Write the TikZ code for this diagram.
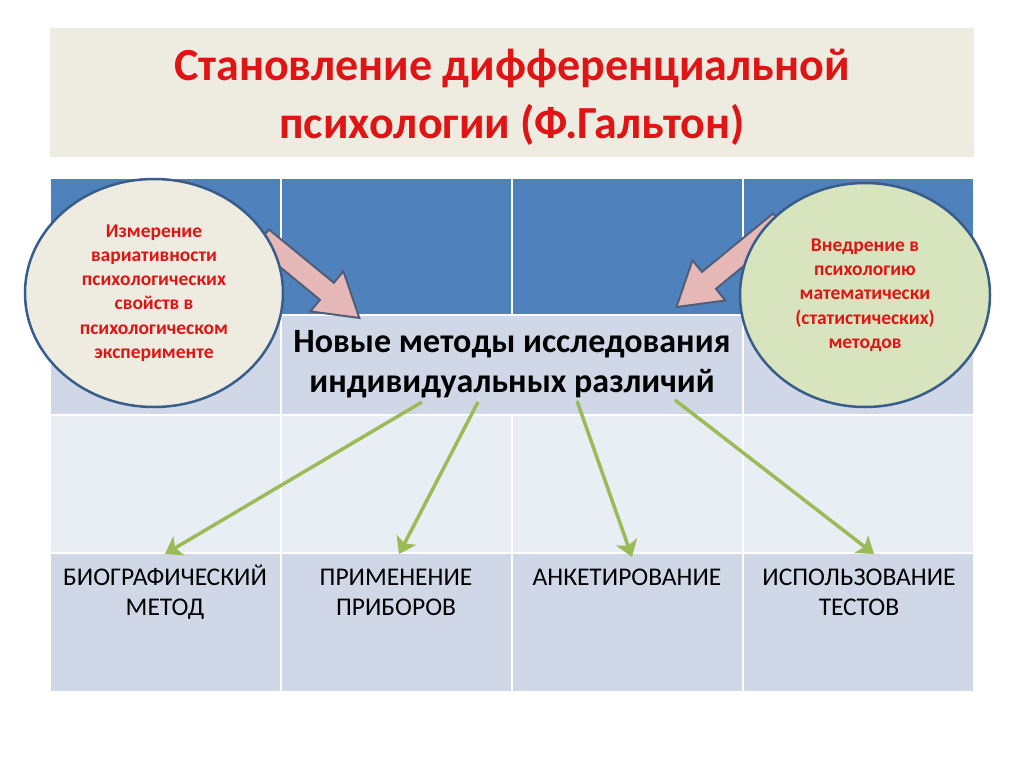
\documentclass[tikz,border=0pt]{standalone}
\usepackage{fontspec}
\setmainfont{Carlito}
\usetikzlibrary{arrows.meta,shapes.geometric,calc}
\definecolor{titlebg}{HTML}{EEECE1}
\definecolor{titlered}{HTML}{E01414}
\definecolor{hdrblue}{HTML}{4F81BD}
\definecolor{rowdark}{HTML}{D0D8E8}
\definecolor{rowlight}{HTML}{E9EDF4}
\definecolor{ellborder}{HTML}{385D8A}
\definecolor{ellbeige}{HTML}{EEECE1}
\definecolor{ellgreen}{HTML}{D7E4BD}
\definecolor{pinkfill}{HTML}{E6B9B8}
\definecolor{pinkdraw}{HTML}{4F5F7A}
\definecolor{arrowgreen}{HTML}{9BBB59}
\tikzset{
  cellbox/.style={draw=white, line width=2pt},
  titletext/.style={text=titlered, font=\fontsize{46}{58}\selectfont\bfseries, align=center, inner sep=0},
  centertext/.style={font=\fontsize{34}{40}\selectfont\bfseries, align=center, inner sep=0},
  celltext/.style={font=\fontsize{25.5}{30}\selectfont, align=center, inner sep=0, anchor=north},
  bubble/.style={ellipse, draw=ellborder, line width=2.5pt, inner sep=0, text=titlered, align=center, font=\fontsize{19.5}{24.3}\selectfont\bfseries},
  greenarrow/.style={draw=arrowgreen, line width=3.5pt, -{Stealth[length=16pt,width=22pt,inset=4pt]}},
  blockarrow/.style={fill=pinkfill, draw=pinkdraw, line width=2pt, line join=miter}
}
\begin{document}
\begin{tikzpicture}[x=1pt,y=-1pt]
\useasboundingbox (0,0) rectangle (1024,767);
\fill[white] (0,0) rectangle (1024,767);
% title
\fill[titlebg] (50,28) rectangle (974,157);
\node[titletext] (title) at (512,97) {Становление дифференциальной\\психологии (Ф.Гальтон)};
% table
\foreach \xa/\xb in {50/281,281/512,512/743,743/974}{
  \filldraw[cellbox, fill=hdrblue] (\xa,178) rectangle (\xb,315);
  \filldraw[cellbox, fill=rowlight] (\xa,415) rectangle (\xb,553);
  \filldraw[cellbox, fill=rowdark] (\xa,553) rectangle (\xb,692);
}
\filldraw[cellbox, fill=rowdark] (50,315) rectangle (281,415);
\filldraw[cellbox, fill=rowdark] (281,315) rectangle (743,415);
\filldraw[cellbox, fill=rowdark] (743,315) rectangle (974,415);
% center text
\node[centertext] (center) at (512,364) {Новые методы исследования\\индивидуальных различий};
% bottom texts
\node[celltext] (b1) at (165,565) {БИОГРАФИЧЕСКИЙ\\МЕТОД};
\node[celltext] (b2) at (396,565) {\vphantom{Й}ПРИМЕНЕНИЕ\\ПРИБОРОВ};
\node[celltext] (b3) at (627,565) {\vphantom{Й}АНКЕТИРОВАНИЕ};
\node[celltext] (b4) at (859,565) {\vphantom{Й}ИСПОЛЬЗОВАНИЕ\\ТЕСТОВ};
% green arrows
\coordinate (s1) at (422,402);
\coordinate (s2) at (478,402);
\coordinate (s3) at (577,401);
\coordinate (s4) at (675,400);
\coordinate (t1) at (165,554);
\coordinate (t2) at (399,554);
\coordinate (t3) at (632,557);
\coordinate (t4) at (874,554);
\draw[greenarrow] (s1) -- (t1);
\draw[greenarrow] (s2) -- (t2);
\draw[greenarrow] (s3) -- (t3);
\draw[greenarrow] (s4) -- (t4);
% pink block arrows
\begin{scope}[shift={(262,238)}, rotate=-39.4]
  \filldraw[blockarrow] (0,-11) -- (84,-11) -- (84,-26) -- (126,0) -- (84,26) -- (84,11) -- (0,11) -- cycle;
\end{scope}
\begin{scope}[shift={(780,222)}, rotate=219.4]
  \filldraw[blockarrow] (0,-11) -- (92,-11) -- (92,-26) -- (134,0) -- (92,26) -- (92,11) -- (0,11) -- cycle;
\end{scope}
% ellipses
\node[bubble, fill=ellbeige, minimum width=258pt, minimum height=228pt] (left) at (154,293)
  {Измерение\\вариативности\\психологических\\свойств в\\психологическом\\эксперименте};
\node[bubble, fill=ellgreen, minimum width=250pt, minimum height=224pt] (right) at (865,295)
  {Внедрение в\\психологию\\математически\\(статистических)\\методов};
\end{tikzpicture}
\end{document}
